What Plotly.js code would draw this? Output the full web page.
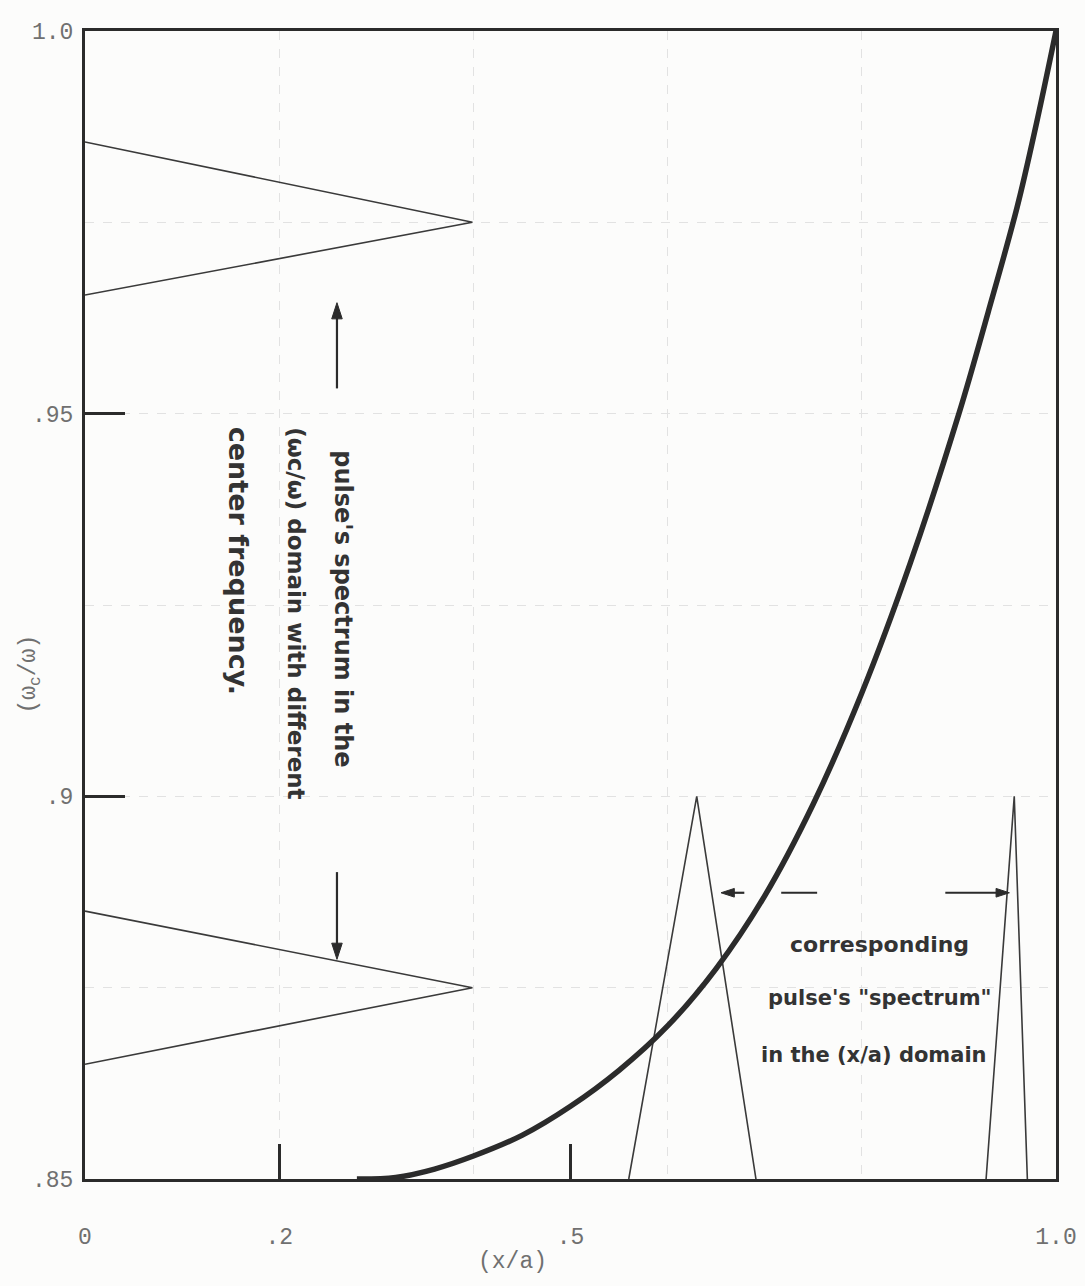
<!DOCTYPE html>
<html>
<head>
<meta charset="utf-8">
<script src="https://cdn.plot.ly/plotly-3.0.1.min.js"></script>
<style>
  html, body { margin: 0; padding: 0; background: #fcfcfb; }
  #chart { width: 1085px; height: 1286px; }
</style>
</head>
<body>
<div id="chart"></div>
<script>
// ---- data ----
const curveX = [0.28, 0.32, 0.36, 0.40, 0.45, 0.50, 0.55, 0.60, 0.65, 0.70, 0.75, 0.80, 0.85, 0.90, 0.93, 0.96, 0.98, 1.00];
const curveY = [0.850, 0.8502, 0.8513, 0.8530, 0.8557, 0.8595, 0.8642, 0.8700, 0.8775, 0.8870, 0.8990, 0.9135, 0.9305, 0.9500, 0.9632, 0.9770, 0.9880, 1.000];

// pulse spectra in the (wc/w) domain (triangles on the left)
const wPulseUpperX = [0, 0.399, 0];
const wPulseUpperY = [0.9855, 0.975, 0.9655];
const wPulseLowerX = [0, 0.399, 0];
const wPulseLowerY = [0.885, 0.875, 0.865];

// corresponding pulse spectra in the (x/a) domain
const xPulse1X = [0.560, 0.630, 0.691];
const xPulse1Y = [0.85, 0.90, 0.85];
const xPulse2X = [0.928, 0.957, 0.9705];
const xPulse2Y = [0.85, 0.90, 0.85];

// annotation arrows (tail, head)
const arrowUpX = [0.2595, 0.2595];
const arrowUpY = [0.9533, 0.9645];
const arrowDownX = [0.2595, 0.2595];
const arrowDownY = [0.8901, 0.8787];
const arrowLeftX = [0.679, 0.655];
const arrowLeftY = [0.8874, 0.8874];
const dashX = [0.717, 0.754];
const dashY = [0.8874, 0.8874];
const arrowRightX = [0.886, 0.952];
const arrowRightY = [0.8874, 0.8874];

// axis ticks
const xTickVals = [0, 0.2, 0.5, 1.0];
const xTickText = ['0', '.2', '.5', '1.0'];
const yTickVals = [0.85, 0.9, 0.95, 1.0];
const yTickText = ['.85', '.9', '.95', '1.0'];
const xGridVals = [0.2, 0.4, 0.6, 0.8];
const yGridVals = [0.875, 0.9, 0.925, 0.95, 0.975];

// texts
const xTitle = '(x/a)';
const yTitle = '(ω<sub>c</sub>/ω)';
const leftNote = ["pulse's spectrum in the", '(ωc/ω) domain with different', 'center frequency.'];
const rightNote = ['corresponding', 'pulse\'s "spectrum"', 'in the (x/a) domain'];

// ---- styling ----
const ink = '#2b2b2b';
const thin = { color: '#3a3a3a', width: 1.6 };
const monoFont = { family: '"Liberation Mono", "DejaVu Sans Mono", monospace', size: 23, color: '#707070' };
const hand = (s) => ({ family: '"DejaVu Sans", sans-serif', size: s, color: '#333333', weight: 'bold' });

const arrowTrace = (xs, ys, sz) => ({
  x: xs, y: ys, mode: 'lines+markers',
  line: { color: ink, width: 2.2 },
  marker: { symbol: 'arrow', angleref: 'previous', size: [0, sz], color: ink, opacity: 1, line: { width: 1, color: ink } },
  hoverinfo: 'skip'
});

const traces = [
  { x: wPulseUpperX, y: wPulseUpperY, mode: 'lines', line: thin, hoverinfo: 'skip' },
  { x: wPulseLowerX, y: wPulseLowerY, mode: 'lines', line: thin, hoverinfo: 'skip' },
  { x: xPulse1X, y: xPulse1Y, mode: 'lines', line: thin, hoverinfo: 'skip' },
  { x: xPulse2X, y: xPulse2Y, mode: 'lines', line: thin, hoverinfo: 'skip' },
  { x: curveX, y: curveY, mode: 'lines', line: { color: ink, width: 5.5, shape: 'spline', smoothing: 1.0 }, hoverinfo: 'skip' },
  arrowTrace(arrowUpX, arrowUpY, 17),
  arrowTrace(arrowDownX, arrowDownY, 17),
  arrowTrace(arrowLeftX, arrowLeftY, 14),
  { x: dashX, y: dashY, mode: 'lines', line: { color: ink, width: 2.2 }, hoverinfo: 'skip' },
  arrowTrace(arrowRightX, arrowRightY, 14)
];

const annotations = [
  // rotated handwritten note (reads top to bottom)
  { text: leftNote[0], x: 0.266, y: 0.9455, xref: 'x', yref: 'y', textangle: 90, showarrow: false, font: hand(24), xanchor: 'center', yanchor: 'top' },
  { text: leftNote[1], x: 0.2173, y: 0.9485, xref: 'x', yref: 'y', textangle: 90, showarrow: false, font: hand(23), xanchor: 'center', yanchor: 'top' },
  { text: leftNote[2], x: 0.158, y: 0.9485, xref: 'x', yref: 'y', textangle: 90, showarrow: false, font: hand(27), xanchor: 'center', yanchor: 'top' },
  // right note
  { text: rightNote[0], x: 0.8187, y: 0.8806, xref: 'x', yref: 'y', showarrow: false, font: hand(22) },
  { text: rightNote[1], x: 0.8187, y: 0.8737, xref: 'x', yref: 'y', showarrow: false, font: hand(21) },
  { text: rightNote[2], x: 0.8126, y: 0.8662, xref: 'x', yref: 'y', showarrow: false, font: hand(21) },
  // axis titles (placed where the reference has them)
  { text: yTitle, x: -0.073, y: 0.44, xref: 'paper', yref: 'paper', textangle: -90, showarrow: false, font: monoFont },
  { text: xTitle, x: 0.44, y: -0.085, xref: 'paper', yref: 'paper', showarrow: false, font: monoFont }
];

const layout = {
  width: 1085,
  height: 1286,
  margin: { l: 85, r: 29, t: 31, b: 107 },
  paper_bgcolor: '#fcfcfb',
  plot_bgcolor: '#fcfcfb',
  showlegend: false,
  xaxis: {
    range: [0, 1.0],
    tickmode: 'array', tickvals: xTickVals, ticktext: xTickText,
    ticks: 'inside', ticklen: 35, tickwidth: 3, tickcolor: ink,
    showline: true, mirror: true, linecolor: ink, linewidth: 3,
    showgrid: false, zeroline: false,
    tickfont: monoFont, ticklabelstandoff: 34,
    minor: { tickmode: 'array', tickvals: xGridVals, showgrid: true, gridcolor: '#e2e2e2', griddash: 'dash', gridwidth: 1, ticks: '' }
  },
  yaxis: {
    range: [0.85, 1.0],
    tickmode: 'array', tickvals: yTickVals, ticktext: yTickText,
    ticks: 'inside', ticklen: 40, tickwidth: 3, tickcolor: ink,
    showline: true, mirror: true, linecolor: ink, linewidth: 3,
    showgrid: false, zeroline: false,
    tickfont: monoFont, ticklabelstandoff: 4,
    minor: { tickmode: 'array', tickvals: yGridVals, showgrid: true, gridcolor: '#e2e2e2', griddash: 'dash', gridwidth: 1, ticks: '' }
  },
  annotations: annotations
};

Plotly.newPlot('chart', traces, layout, { displayModeBar: false, staticPlot: true });
</script>
</body>
</html>
